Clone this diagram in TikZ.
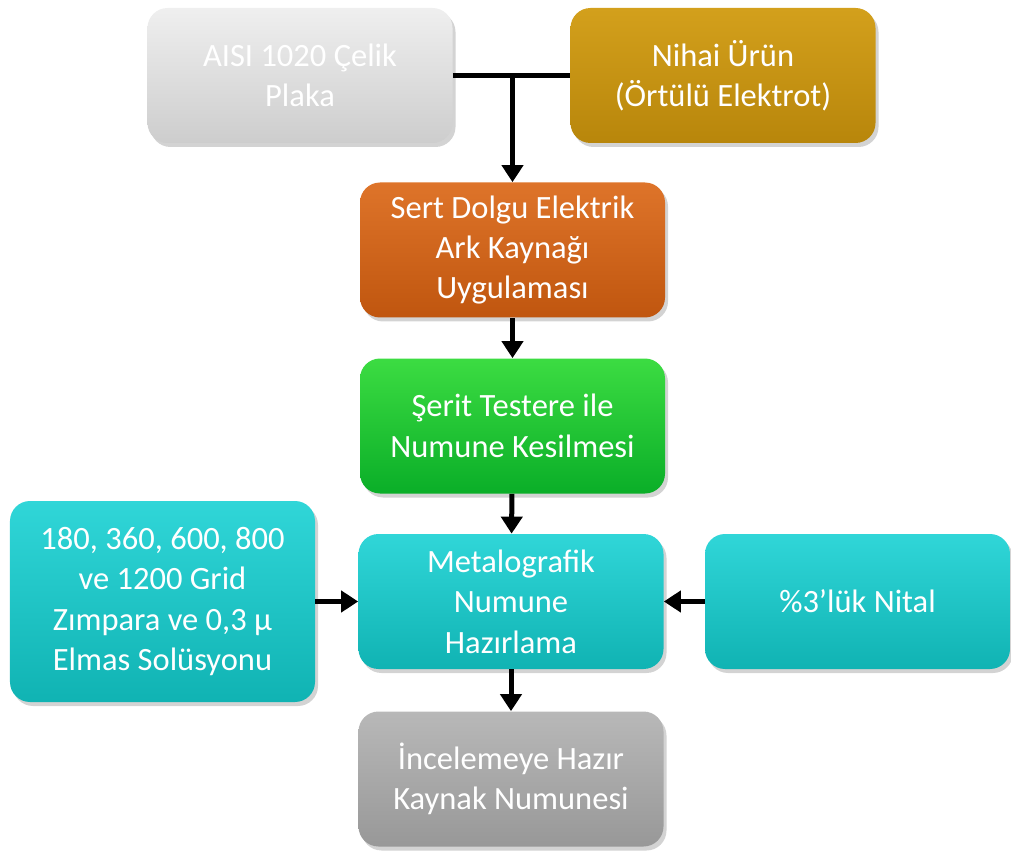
\documentclass[tikz,border=0pt]{standalone}
\usepackage{fontspec}
\setmainfont{Carlito}
\usepackage{xcolor}
\usetikzlibrary{arrows.meta,shadows,positioning}

\definecolor{plakaTop}{HTML}{EFEFEF}
\definecolor{plakaBot}{HTML}{CDCDCD}
\definecolor{urunTop}{HTML}{D3A01C}
\definecolor{urunBot}{HTML}{B8860B}
\definecolor{kaynakTop}{HTML}{DE742A}
\definecolor{kaynakBot}{HTML}{C0560F}
\definecolor{kesimTop}{HTML}{3CDC42}
\definecolor{kesimBot}{HTML}{0AAE28}
\definecolor{tealTop}{HTML}{30D6D8}
\definecolor{tealBot}{HTML}{10B3B3}
\definecolor{hazirTop}{HTML}{B8B8B8}
\definecolor{hazirBot}{HTML}{989898}

\tikzset{
  box/.style={rectangle, rounded corners=0.4cm, text=white, align=center,
    minimum width=6.1cm, minimum height=2.7cm, inner sep=2pt,
    font=\fontsize{18.5}{23}\selectfont,
    drop shadow={opacity=0.35, shadow xshift=0.06cm, shadow yshift=-0.08cm}},
  grey box/.style={box, top color=plakaTop, bottom color=plakaBot},
  gold box/.style={box, top color=urunTop, bottom color=urunBot},
  orange box/.style={box, top color=kaynakTop, bottom color=kaynakBot},
  green box/.style={box, top color=kesimTop, bottom color=kesimBot},
  teal box/.style={box, top color=tealTop, bottom color=tealBot},
  dark box/.style={box, top color=hazirTop, bottom color=hazirBot},
  flow/.style={line width=0.1cm, -{Triangle[width=0.42cm,length=0.34cm]}}
}

\begin{document}
\begin{tikzpicture}
\useasboundingbox (0,0) rectangle (20.22,-17.12);

% upper row
\node[grey box] (plaka) at (6.0,-1.51) {AISI 1020 Çelik\\Plaka};
\node[gold box] (urun) at (14.46,-1.51) {Nihai Ürün\\(Örtülü Elektrot)};

% main column
\node[orange box] (kaynak) at (10.25,-5.0) {Sert Dolgu Elektrik\\Ark Kaynağı\\Uygulaması};
\node[green box] (kesim) at (10.25,-8.52) {Şerit Testere ile\\Numune Kesilmesi};
\node[teal box] (hazirlama) at (10.22,-12.03) {Metalografik\\Numune\\Hazırlama};
\node[dark box] (hazir) at (10.22,-15.58) {İncelemeye Hazır\\Kaynak Numunesi};

% side inputs
\node[teal box, minimum height=4.02cm] (zimpara) at (3.25,-12.03)
  {180, 360, 600, 800\\ve 1200 Grid\\Zımpara ve 0,3 µ\\Elmas Solüsyonu};
\node[teal box] (nital) at (17.15,-12.03) {\%3’lük Nital};

% connectors
\draw[line width=0.1cm] (plaka.east) -- (urun.west);
\draw[flow] (plaka.east -| kaynak.north) -- (kaynak.north);
\draw[flow] (kaynak) -- (kesim);
\draw[flow] (kesim) -- (hazirlama);
\draw[flow] (hazirlama) -- (hazir);
\draw[flow] (zimpara) -- (hazirlama);
\draw[flow] (nital) -- (hazirlama);
\end{tikzpicture}
\end{document}
